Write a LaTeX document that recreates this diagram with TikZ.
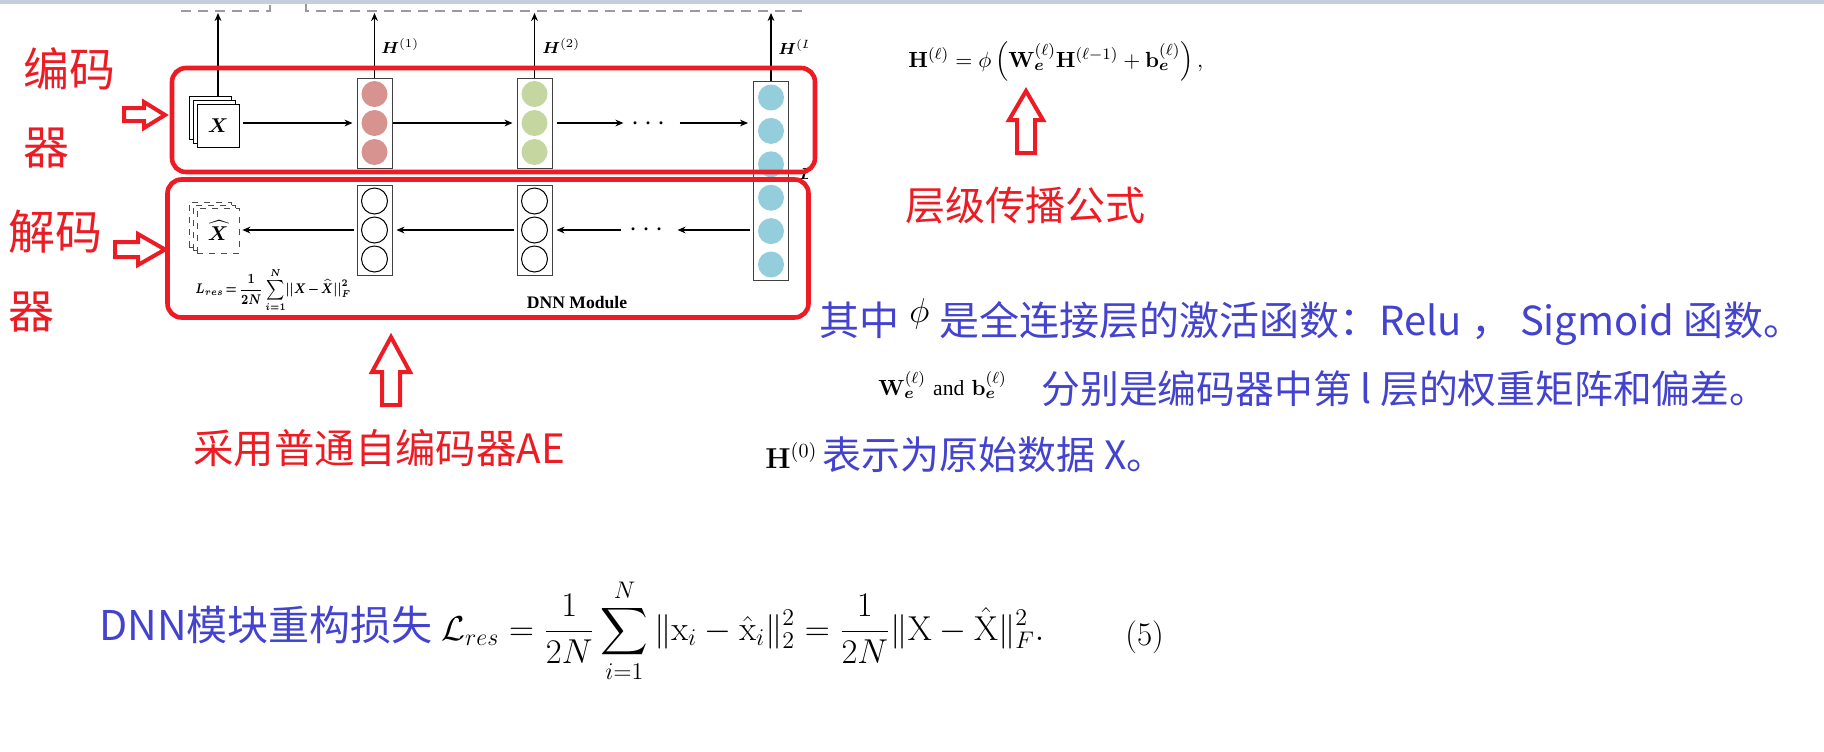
\documentclass[tikz,border=0pt]{standalone}
\usepackage{amsmath,amssymb,bm}
\usepackage{graphicx}
\usepackage[no-math]{fontspec}
\newfontfamily\hanzi{Noto Sans CJK SC}
\newfontfamily\timesfont{Liberation Serif}
\usepackage{xcolor}
\definecolor{aered}{HTML}{ED1C24}
\definecolor{noteblue}{HTML}{4343CF}
\definecolor{guidegray}{HTML}{9A9A9A}
\definecolor{barblue}{HTML}{C5CEDF}
\definecolor{rosefill}{HTML}{D6938F}
\definecolor{sagefill}{HTML}{C5D6A0}
\definecolor{skyfill}{HTML}{94CEDC}
\usepackage{tikz}
\usetikzlibrary{arrows.meta,positioning,fit,calc}
\newcommand{\cjkat}[1]{\hanzi\fontsize{#1pt}{#1pt}\selectfont}
\newcommand{\mathat}[1]{\fontsize{#1pt}{#1pt}\selectfont}

\begin{document}
\begin{tikzpicture}[x=0.5pt, y=-0.5pt,
  layer/.style={draw=black!75, line width=0.5pt, minimum width=17.5pt,
                inner sep=0pt},
  neuron/.style={circle, inner sep=0pt, minimum size=13pt},
  sheet/.style={draw, fill=white, minimum width=21pt, minimum height=21.5pt,
                inner sep=0pt, line width=0.4pt},
  ghost/.style={sheet, dashed, draw=black!70, minimum height=22.5pt},
  arr/.style={-{Stealth[length=4pt,width=3.4pt]}, line width=0.65pt},
  rail/.style={draw=guidegray, line width=1pt, dash pattern=on 5pt off 3.5pt},
  redbox/.style={draw=aered, line width=2.3pt, rounded corners=7pt,
                 inner sep=0pt},
  hollow/.style={draw=aered, line width=2pt, line join=miter},
  redtxt/.style={text=aered, inner sep=0pt, anchor=base west},
  bluetxt/.style={text=noteblue, inner sep=0pt, anchor=base west},
  eqn/.style={inner sep=0pt, anchor=base west}
]
\useasboundingbox (0,0) rectangle (1824,751);
\fill[white] (0,0) rectangle (1824,751);
\fill[barblue] (0,0) rectangle (1824,3.5);

% output rail
\coordinate (rail) at (0,11);
\draw[rail] (181,11) -- (270,11) -- (270,3.5);
\draw[rail] (306,3.5) -- (306,11) -- (807,11);

% input and reconstruction
\foreach \d [count=\i] in {8,4}
  \node[sheet] (xback\i) at (218-\d,125.5-\d) {};
\node[sheet, font=\mathat{10}] (xin) at (218,125.5) {$\bm{X}$};
\foreach \d [count=\i] in {8,4}
  \node[ghost] (xhback\i) at (218-\d,230.5-0.7*\d) {};
\node[ghost, font=\mathat{10}] (xout) at (218,230.5) {$\widehat{\bm{X}}$};

% layers
\node[layer, minimum height=45pt] (enc1) at (374.5,123) {};
\node[layer, minimum height=45pt, right=62pt of enc1] (enc2) {};
\node[layer, minimum height=45pt, below=8pt of enc1] (dec1) {};
\node[layer, minimum height=45pt, below=8pt of enc2] (dec2) {};
\node[layer, minimum height=99.5pt] (encL) at (771,181) {};
\foreach \k [count=\i] in {-1,0,1} {
  \node[neuron, fill=rosefill] (e1n\i) at ($(enc1)+(0,29*\k)$) {};
  \node[neuron, fill=sagefill] (e2n\i) at ($(enc2)+(0,29*\k)$) {};
  \node[neuron, draw, line width=0.5pt] (d1n\i) at ($(dec1)+(0,29*\k)$) {};
  \node[neuron, draw, line width=0.5pt] (d2n\i) at ($(dec2)+(0,29*\k)$) {};
}
\foreach \k [count=\i] in {-2.5,-1.5,-0.5,0.5,1.5,2.5}
  \node[neuron, fill=skyfill] (eLn\i) at ($(encL)+(0,33.4*\k)$) {};
\node[anchor=base, inner sep=0pt, font=\mathat{14}] (edots) at (651,130) {$\cdots$};
\node[anchor=base, inner sep=0pt, font=\mathat{14}] (ddots) at (649,236) {$\cdots$};

% encoder row
\draw[arr, shorten <=2pt, shorten >=2pt] (xin.east |- enc1.west) -- (enc1.west);
\draw[arr, shorten >=2pt] (enc1.east) -- (enc2.west);
\draw[arr, shorten <=2pt, shorten >=4pt] (enc2.east) -- (edots.west |- enc2.east);
\draw[arr, shorten <=4.5pt, shorten >=2.5pt] (edots.east |- enc2.east) -- (encL.west |- enc2.east);
% decoder row
\draw[arr, shorten <=1.5pt, shorten >=4.5pt] (encL.west |- dec2.east) -- (ddots.east |- dec2.east);
\draw[arr, shorten <=4pt, shorten >=2pt] (ddots.west |- dec2.east) -- (dec2.east);
\draw[arr, shorten <=1.5pt, shorten >=2pt] (dec2.west) -- (dec1.east);
\draw[arr, shorten <=1.5pt, shorten >=1.5pt] (dec1.west) -- (xout.east |- dec1.west);
% outputs
\draw[arr, shorten >=1pt] (xin.north |- xback1.north) -- (xin.north |- rail);
\draw[arr, shorten >=1pt] (enc1.north) -- (enc1.north |- rail);
\draw[arr, shorten >=1pt] (enc2.north) -- (enc2.north |- rail);
\draw[arr, shorten >=1pt] (encL.north) -- (encL.north |- rail);
\node[eqn, font=\mathat{8.5}] (h1) at (381,53) {$\bm{H}^{(1)}$};
\node[eqn, font=\mathat{8.5}] (h2) at (542,53) {$\bm{H}^{(2)}$};
\begin{scope}
  \clip (0,0) rectangle (807,751);
  \node[eqn, font=\mathat{8.5}] (hL) at (778,54) {$\bm{H}^{(L)}$};
  \node[eqn, font=\mathat{8.5}] (lcut) at (799,179) {$\bm{L}$};
\end{scope}
\node[eqn, font=\mathat{7}] (lres) at (195,293.5) {\scalebox{0.8}[1]{\medmuskip=2mu\thickmuskip=3mu$\displaystyle \bm{L}_{\bm{res}}\bm{=}\frac{\bm{1}}{\bm{2N}}\sum_{\bm{i=1}}^{\bm{N}}\bm{\lvert\lvert X-\widehat{X}\rvert\rvert}_{\bm{F}}^{\bm{2}}$}};
\node[inner sep=0pt, font=\timesfont\bfseries\mathat{8.8}] (dnn) at (577,302) {DNN Module};

% red frames and marks
\node[redbox, fit={(172,68) (815,172)}] (encbox) {};
\node[redbox, fit={(167.5,179.5) (808.5,317.5)}] (decbox) {};
\draw[hollow] (124,108) -- (144,108) -- (144,102) -- (165,115) -- (144,128)
  -- (144,121) -- (124,121) -- cycle;
\draw[hollow] (115,242) -- (138,242) -- (138,234) -- (165,249.5) -- (138,265)
  -- (138,257) -- (115,257) -- cycle;
\draw[hollow] (382,405) -- (382,372) -- (372,372) -- (391,337) -- (410,372)
  -- (400,372) -- (400,405) -- cycle;
\draw[hollow] (1017,153) -- (1017,120) -- (1009,120) -- (1026,91) -- (1043,120)
  -- (1035,120) -- (1035,153) -- cycle;
\node[redtxt, font=\cjkat{23}] (enclbl) at (23,86) {编码};
\node[redtxt, font=\cjkat{23}] (enclblb) at (23,164.5) {器};
\node[redtxt, font=\cjkat{23.5}] (declbl) at (8,249) {解码};
\node[redtxt, font=\cjkat{23}] (declblb) at (8,328.5) {器};
\node[redtxt, font=\cjkat{20.2}] (aelbl) at (193,463) {采用普通自编码器AE};
\node[redtxt, font=\cjkat{20}] (proplbl) at (905,220) {层级传播公式};

% notes on the right
\node[eqn, font=\mathat{11}] (prop) at (908,67) {$\mathbf{H}^{(\ell)}=\phi\left(\mathbf{W}_{\bm{e}}^{(\ell)}\mathbf{H}^{(\ell-1)}+\mathbf{b}_{\bm{e}}^{(\ell)}\right),$};
\node[bluetxt, font=\cjkat{20}] (note1) at (819,335) {其中\hspace{5pt}\raisebox{6.5pt}{\color{black}\mathat{17}$\phi$}\hspace{5pt}是全连接层的激活函数：Relu ， Sigmoid 函数。};
\node[eqn, font=\mathat{10.8}] (wbnote) at (878,395) {$\mathbf{W}_{\bm{e}}^{(\ell)}$ {\timesfont and} $\mathbf{b}_{\bm{e}}^{(\ell)}$};
\node[bluetxt, font=\cjkat{19.4}] (note2) at (1041,403) {分别是编码器中第 l 层的权重矩阵和偏差。};
\node[eqn, font=\mathat{14}] (h0) at (765,468) {$\mathbf{H}^{(0)}$};
\node[bluetxt, font=\cjkat{19.5}] (note3) at (822,469) {表示为原始数据 X。};

% loss
\node[bluetxt, font=\cjkat{20.5}] (losslbl) at (99,640) {DNN模块重构损失};
\node[eqn, font=\mathat{16.5}] (lossdef) at (441,640) {$\displaystyle\mathcal{L}_{res}=\frac{1}{2N}\sum_{i=1}^{N}\|\mathrm{x}_i-\hat{\mathrm{x}}_i\|_2^2=\frac{1}{2N}\|\mathrm{X}-\hat{\mathrm{X}}\|_F^2.$};
\node[eqn, font=\mathat{16.5}] (eqno) at (1125,645) {(5)};
\end{tikzpicture}
\end{document}
